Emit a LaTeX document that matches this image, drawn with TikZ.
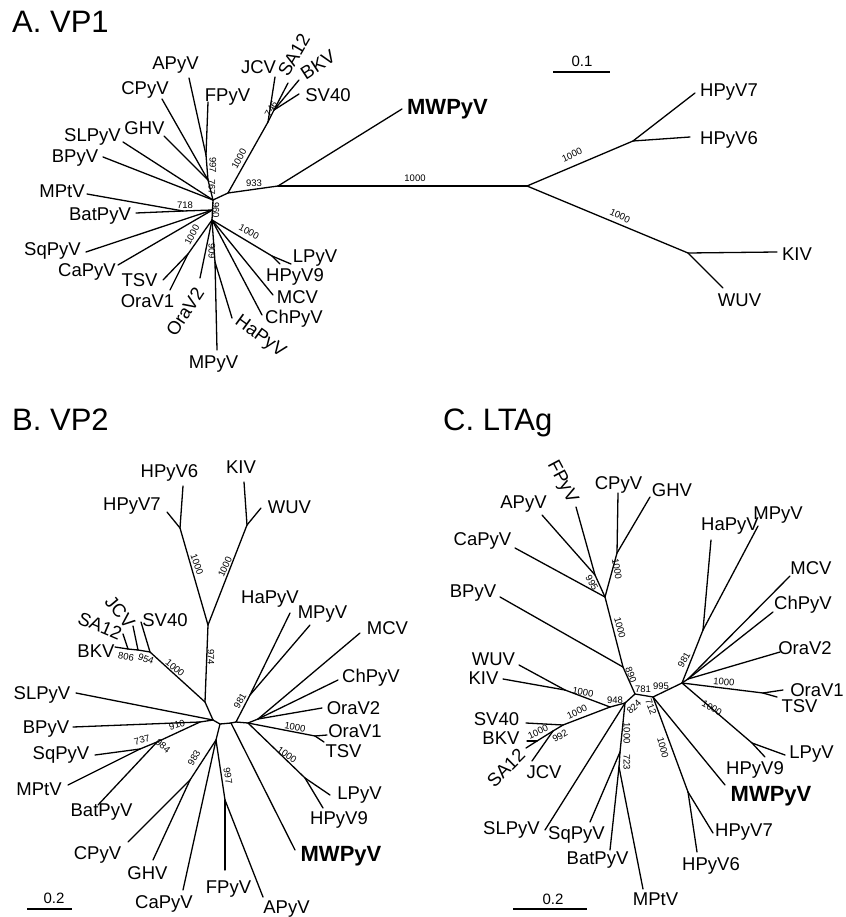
\documentclass[tikz,border=0pt]{standalone}
\usepackage{fontspec}
\setmainfont{Liberation Sans}
\begin{document}
\begin{tikzpicture}[x=1pt,y=-1pt]
\tikzset{
 br/.style={line width=1.3pt, line cap=round},
 lab/.style={font=\fontsize{18.5}{20}\selectfont, inner sep=0pt},
 boldlab/.style={font=\fontsize{22}{24}\selectfont\bfseries, inner sep=0pt},
 bs/.style={font=\fontsize{9.5}{10}\selectfont, inner sep=0pt},
 ttl/.style={font=\fontsize{31}{33}\selectfont, inner sep=0pt, anchor=base west},
 sclab/.style={font=\fontsize{15}{16}\selectfont, inner sep=0pt},
 scbar/.style={line width=1.3pt},
}
\useasboundingbox (0,0) rectangle (845,917);
% ================= Panel A =================
\node[ttl] (tA) at (12,33) {A. VP1};
\foreach \n/\x/\y in {aT/213/200, aB/212/220, aC/212.5/210, aAF/206/155, a767/208/180,
 aAPyV/189/78, aFPyV/208/102, aCPyV/162/99, aGHV/164/136, aSLPyV/123/142, aBPyV/103/157,
 aMPtV/87/194, aBatPyV/136/213, aM7/183/211, aSqPyV/86/252, aCaPyV/118/265,
 aTO/188/254, aTSV/163/280, aOraV1/170/290, aOraV2/200/278,
 aHM/215/262, aHaPyV/232/318, aMPyV/217/350, aChPyV/262/315, aMCV/273/295,
 aLH/272/256, aLPyV/291/264, aHPyV9/280/264,
 aJ0/228/193, aJ1/268/122, aJCV/275/77, aJ2/274/110, aSA12/288/83, aBKV/299/80, aSV40/299/94,
 aN933/278/186, aMWPyV/402/109, aR/527/186, aHP/633/141, aHPyV7/695/93, aHPyV6/690/137,
 aKW/688/253, aKIV/777/252, aWUV/723/288}
 {\coordinate (\n) at (\x,\y);}
\foreach \a/\b in {aFPyV/aAF, aAPyV/aAF, aAF/a767, aCPyV/a767, aGHV/a767, a767/aT,
 aSLPyV/aT, aBPyV/aT, aT/aB, aMPtV/aM7, aBatPyV/aM7, aM7/aC, aSqPyV/aC, aCaPyV/aC,
 aTSV/aTO, aOraV1/aTO, aTO/aB, aOraV2/aB, aB/aHM, aHM/aHaPyV, aHM/aMPyV, aChPyV/aB, aMCV/aB,
 aB/aLH, aLH/aLPyV, aLH/aHPyV9, aT/aJ0, aJ0/aJ1, aJ1/aJCV, aJ1/aJ2, aJ2/aSA12, aJ2/aBKV, aJ2/aSV40,
 aJ0/aN933, aN933/aMWPyV, aN933/aR, aR/aHP, aHP/aHPyV7, aHP/aHPyV6, aR/aKW, aKW/aKIV, aKW/aWUV}
 {\draw[br] (\a) -- (\b);}
\node[lab] (LaAPyV) at (175.5,65) {APyV};
\node[lab] (LaCPyV) at (145,90) {CPyV};
\node[lab] (LaGHV) at (144.5,128.5) {GHV};
\node[lab] (LaSLPyV) at (92.5,136.5) {SLPyV};
\node[lab] (LaBPyV) at (75,158.5) {BPyV};
\node[lab] (LaMPtV) at (62,191.5) {MPtV};
\node[lab] (LaFPyV) at (227.5,97.5) {FPyV};
\node[lab] (LaJCV) at (258.5,67.5) {JCV};
\node[lab,rotate=60] (LaSA12) at (294,55) {SA12};
\node[lab,rotate=33] (LaBKV) at (318,65) {BKV};
\node[lab] (LaSV40) at (328,95) {SV40};
\node[boldlab] (LaMWPyV) at (447.5,109) {MWPyV};
\node[lab] (LaHPyV7) at (729,92.5) {HPyV7};
\node[lab] (LaHPyV6) at (729,139.5) {HPyV6};
\node[lab] (LaKIV) at (797,254.5) {KIV};
\node[lab] (LaWUV) at (739.5,300.5) {WUV};
\node[lab] (LaBatPyV) at (100,216.5) {BatPyV};
\node[lab] (LaSqPyV) at (52.5,250.5) {SqPyV};
\node[lab] (LaCaPyV) at (87,271.5) {CaPyV};
\node[lab] (LaTSV) at (139.5,280) {TSV};
\node[lab] (LaOraV1) at (147.5,301.5) {OraV1};
\node[lab,rotate=57] (LaOraV2) at (185,312) {OraV2};
\node[lab,rotate=-36] (LaHaPyV) at (260,337) {HaPyV};
\node[lab] (LaMPyV) at (213.5,364.5) {MPyV};
\node[lab] (LaChPyV) at (294,318.5) {ChPyV};
\node[lab] (LaMCV) at (297.5,297.5) {MCV};
\node[lab] (LaHPyV9) at (295,276.5) {HPyV9};
\node[lab] (LaLPyV) at (315,258.5) {LPyV};
% bootstrap A
\node[bs,rotate=-90] (ba1) at (213,165) {997};
\node[bs,rotate=-90] (ba2) at (212,187) {767};
\node[bs,rotate=-90] (ba3) at (216,210) {960};
\node[bs] (ba4) at (254,183) {933};
\node[bs,rotate=62] (ba5) at (239,159) {1000};
\node[bs,rotate=60] (ba6) at (271,109) {746};
\node[bs] (ba7) at (185,205) {718};
\node[bs,rotate=62] (ba8) at (192,235) {1000};
\node[bs,rotate=-90] (ba9) at (212,251) {909};
\node[bs,rotate=-28] (ba10) at (249,232) {1000};
\node[bs] (ba11) at (415,178.5) {1000};
\node[bs,rotate=25] (ba12) at (572,155) {1000};
\node[bs,rotate=-25] (ba13) at (620,216) {1000};
% scale A
\coordinate (sa1) at (553,72); \coordinate (sa2) at (610,72);
\draw[scbar] (sa1) -- (sa2);
\node[sclab] (sA) at (582,61) {0.1};
% ================= Panel B =================
\node[ttl] (tB) at (12,430) {B. VP2};
\foreach \n/\x/\y in {bP67/180/528, bHPyV6/183/486, bHPyV7/167/512, bKW/247/525, bKIV/244/482,
 bWUV/261/508, bJ/208/625, bP974/205/702, bH1/213/720, bH2/220/724, bH3/216/740, bH4/231/723,
 bH5/236/722, bH6/248/723, bH7/258/719, bN1/150/652, bSV40/141/622, bN2/138/650, bJCV/133/626,
 bN3/128/649, bSA12/123/634, bBKV/115/647, bSLPyV/76/693, bN910/200/722, bBPyV/73/727,
 bN984/157/742, bN737/140/749, bSqPyV/95/755, bMPtV/68/785, bBatPyV/98/805, bN983/190/780,
 bCPyV/128/842, bGHV/153/860, bCaPyV/183/890, bN997/225/800, bFPyV/225/870, bAPyV/263/897,
 bMWPyV/295/850, bN981/250/695, bHaPyV/290/613, bMPyV/310/625, bMCV/360/633, bChPyV/338/680,
 bOraV2/322/708, bTO/315/736, bOraV1/327/735, bTSV/324/742, bLH/305/778, bLPyV/330/795, bHPyV9/323/808}
 {\coordinate (\n) at (\x,\y);}
\foreach \a/\b in {bHPyV6/bP67, bHPyV7/bP67, bP67/bJ, bKIV/bKW, bWUV/bKW, bKW/bJ, bJ/bP974, bP974/bH1,
 bSV40/bN1, bN1/bP974, bN1/bN2, bN2/bJCV, bN2/bN3, bN3/bSA12, bN3/bBKV,
 bSLPyV/bH1, bBPyV/bN910, bN910/bH1, bN984/bN910, bN737/bN984, bSqPyV/bN737, bMPtV/bN737, bBatPyV/bN984,
 bH1/bH2, bH2/bH3, bH3/bN983, bN983/bCPyV, bN983/bGHV, bH3/bCaPyV, bH3/bN997, bN997/bFPyV, bN997/bAPyV,
 bH2/bH4, bH4/bMWPyV, bH4/bH5, bH5/bN981, bN981/bHaPyV, bN981/bMPyV, bH5/bH6, bH6/bH7, bH7/bMCV,
 bH7/bChPyV, bH7/bOraV2, bH6/bTO, bTO/bOraV1, bTO/bTSV, bH6/bLH, bLH/bLPyV, bLH/bHPyV9}
 {\draw[br] (\a) -- (\b);}
\node[lab] (LbHPyV6) at (169.5,473) {HPyV6};
\node[lab] (LbHPyV7) at (132,506.5) {HPyV7};
\node[lab] (LbKIV) at (241,467.5) {KIV};
\node[lab] (LbWUV) at (289.5,507.5) {WUV};
\node[lab,rotate=-50] (LbJCV) at (120,612) {JCV};
\node[lab,rotate=-23] (LbSA12) at (100,626) {SA12};
\node[lab] (LbSV40) at (165,620.5) {SV40};
\node[lab] (LbBKV) at (96,651.5) {BKV};
\node[lab] (LbSLPyV) at (42,694.5) {SLPyV};
\node[lab] (LbBPyV) at (46,729.5) {BPyV};
\node[lab] (LbSqPyV) at (61,755) {SqPyV};
\node[lab] (LbMPtV) at (39,789.5) {MPtV};
\node[lab] (LbBatPyV) at (101.5,812.5) {BatPyV};
\node[lab] (LbCPyV) at (97.5,854.5) {CPyV};
\node[lab] (LbGHV) at (147.5,873.5) {GHV};
\node[lab] (LbCaPyV) at (164,903.5) {CaPyV};
\node[lab] (LbFPyV) at (228.5,889.5) {FPyV};
\node[lab] (LbAPyV) at (286.5,909) {APyV};
\node[boldlab] (LbMWPyV) at (341,856.5) {MWPyV};
\node[lab] (LbHPyV9) at (339,820) {HPyV9};
\node[lab] (LbLPyV) at (359.5,795) {LPyV};
\node[lab] (LbTSV) at (343.5,751.5) {TSV};
\node[lab] (LbOraV1) at (355,731.5) {OraV1};
\node[lab] (LbOraV2) at (353.5,708.5) {OraV2};
\node[lab] (LbChPyV) at (371,677.5) {ChPyV};
\node[lab] (LbMCV) at (387.5,628.5) {MCV};
\node[lab] (LbMPyV) at (322.5,614.5) {MPyV};
\node[lab] (LbHaPyV) at (270,599.5) {HaPyV};
% bootstrap B
\node[bs,rotate=-70] (bb1) at (197,564) {1000};
\node[bs,rotate=65] (bb2) at (225,567) {1000};
\node[bs,rotate=-90] (bb3) at (211,657) {974};
\node[bs,rotate=-10] (bb4) at (126,657) {806};
\node[bs,rotate=-20] (bb5) at (146,659) {954};
\node[bs,rotate=-40] (bb6) at (175,668) {1000};
\node[bs,rotate=15] (bb7) at (177,725) {910};
\node[bs,rotate=15] (bb8) at (142,740) {737};
\node[bs,rotate=-40] (bb9) at (163,746) {984};
\node[bs,rotate=60] (bb10) at (194,758) {983};
\node[bs,rotate=-80] (bb11) at (228,776) {997};
\node[bs,rotate=60] (bb12) at (240,701) {981};
\node[bs,rotate=-10] (bb13) at (295,727) {1000};
\node[bs,rotate=-35] (bb14) at (287,755) {1000};
% scale B
\coordinate (sb1) at (27,909); \coordinate (sb2) at (72,909);
\draw[scbar] (sb1) -- (sb2);
\node[sclab] (sB) at (54,898) {0.2};
% ================= Panel C =================
\node[ttl] (tC) at (443,430) {C. LTAg};
\foreach \n/\x/\y in {cFPyV/576/507, cAPyV/542/515, cFA/595/575, cCaPyV/515/548, cN995/605/597,
 cCPyV/618/493, cGHV/650/497, cCG/617/553, cBPyV/500/597, cN890/623/667, cH0/635/694, cHm/653/697,
 cHR/682/683, cHc/625/703, cMWPyV/725/785, cN67/688/792, cHPyV7/713/833, cHPyV6/697/852,
 cTO/763/693, cOraV1/783/690, cTSV/777/697, cLH/752/743, cLPyV/785/755, cHPyV9/765/757,
 cN981/703/630, cHaPyV/711/540, cMPyV/758/526, cH8/688/679, cMCV/790/576, cChPyV/773/612, cOraV2/780/652,
 cN948/610/707, cWK/565/690, cWUV/519/665, cKIV/503/679, cNS/563/725, cSV40/526/723, cN992/553/731,
 cNBS/537/741, cBKV/527/741, cSA12/526/748, cJCV/532/761, cSLPyV/545/830, cQ1/620/752,
 cSqPyV/590/822, cQ2/619/767, cBatPyV/610/850, cMPtV/643/889}
 {\coordinate (\n) at (\x,\y);}
\foreach \a/\b in {cFPyV/cFA, cAPyV/cFA, cFA/cN995, cCaPyV/cN995, cCPyV/cCG, cGHV/cCG, cCG/cN995,
 cN995/cN890, cBPyV/cN890, cN890/cH0, cH0/cHm, cHm/cHR, cHm/cMWPyV, cHm/cN67, cN67/cHPyV7, cN67/cHPyV6,
 cHR/cTO, cTO/cOraV1, cTO/cTSV, cHR/cLH, cLH/cLPyV, cLH/cHPyV9, cHR/cN981, cN981/cHaPyV, cN981/cMPyV,
 cHR/cH8, cH8/cMCV, cH8/cChPyV, cH8/cOraV2, cH0/cHc, cHc/cN948, cN948/cWK, cWK/cWUV, cWK/cKIV,
 cN948/cNS, cNS/cSV40, cNS/cN992, cN992/cJCV, cN992/cNBS, cNBS/cBKV, cNBS/cSA12,
 cHc/cSLPyV, cHc/cQ1, cQ1/cSqPyV, cQ1/cQ2, cQ2/cBatPyV, cQ2/cMPtV}
 {\draw[br] (\a) -- (\b);}
\node[lab,rotate=-62] (LcFPyV) at (562,482) {FPyV};
\node[lab] (LcAPyV) at (523.5,504.5) {APyV};
\node[lab] (LcCaPyV) at (482.5,540.5) {CaPyV};
\node[lab] (LcCPyV) at (618.5,484.5) {CPyV};
\node[lab] (LcGHV) at (672,490) {GHV};
\node[lab] (LcBPyV) at (473,593.5) {BPyV};
\node[lab] (LcWUV) at (493.5,659.5) {WUV};
\node[lab] (LcKIV) at (483.5,678.5) {KIV};
\node[lab] (LcSV40) at (496.5,719.5) {SV40};
\node[lab] (LcBKV) at (501,738.5) {BKV};
\node[lab,rotate=45] (LcSA12) at (506,768) {SA12};
\node[lab] (LcJCV) at (544,772.5) {JCV};
\node[lab] (LcSLPyV) at (511.5,830) {SLPyV};
\node[lab] (LcSqPyV) at (576.5,834.5) {SqPyV};
\node[lab] (LcBatPyV) at (597.5,860.5) {BatPyV};
\node[lab] (LcMPtV) at (655.5,899.5) {MPtV};
\node[lab] (LcHPyV6) at (711,865.5) {HPyV6};
\node[lab] (LcHPyV7) at (744,832.5) {HPyV7};
\node[boldlab] (LcMWPyV) at (771,796) {MWPyV};
\node[lab] (LcHPyV9) at (755,769.5) {HPyV9};
\node[lab] (LcLPyV) at (811.5,754.5) {LPyV};
\node[lab] (LcTSV) at (799.5,706.5) {TSV};
\node[lab] (LcOraV1) at (817,690) {OraV1};
\node[lab] (LcOraV2) at (805,648) {OraV2};
\node[lab] (LcChPyV) at (803,605) {ChPyV};
\node[lab] (LcMCV) at (811,568) {MCV};
\node[lab] (LcMPyV) at (778,515) {MPyV};
\node[lab] (LcHaPyV) at (730,526) {HaPyV};
% bootstrap C
\node[bs,rotate=-60] (bc1) at (592,583) {995};
\node[bs,rotate=-80] (bc2) at (617,569) {1000};
\node[bs,rotate=-75] (bc3) at (620,628) {1000};
\node[bs,rotate=-70] (bc4) at (631,675) {890};
\node[bs] (bc5) at (643,689) {781};
\node[bs] (bc6) at (661,686) {995};
\node[bs,rotate=45] (bc7) at (634,707) {824};
\node[bs,rotate=-70] (bc8) at (651,707) {712};
\node[bs] (bc9) at (615,700) {948};
\node[bs,rotate=-10] (bc10) at (583,692) {1000};
\node[bs,rotate=25] (bc11) at (577,712) {1000};
\node[bs,rotate=25] (bc12) at (538,732) {1000};
\node[bs,rotate=30] (bc13) at (560,736) {992};
\node[bs,rotate=-90] (bc14) at (627,733) {1000};
\node[bs,rotate=-90] (bc15) at (627,762) {723};
\node[bs,rotate=-75] (bc16) at (663,748) {1000};
\node[bs,rotate=-30] (bc17) at (712,708) {1000};
\node[bs,rotate=-5] (bc18) at (724,682) {1000};
\node[bs,rotate=60] (bc19) at (684,660) {981};
% scale C
\coordinate (sc1) at (513,909); \coordinate (sc2) at (587,909);
\draw[scbar] (sc1) -- (sc2);
\node[sclab] (sC) at (553,899) {0.2};
\end{tikzpicture}
\end{document}
